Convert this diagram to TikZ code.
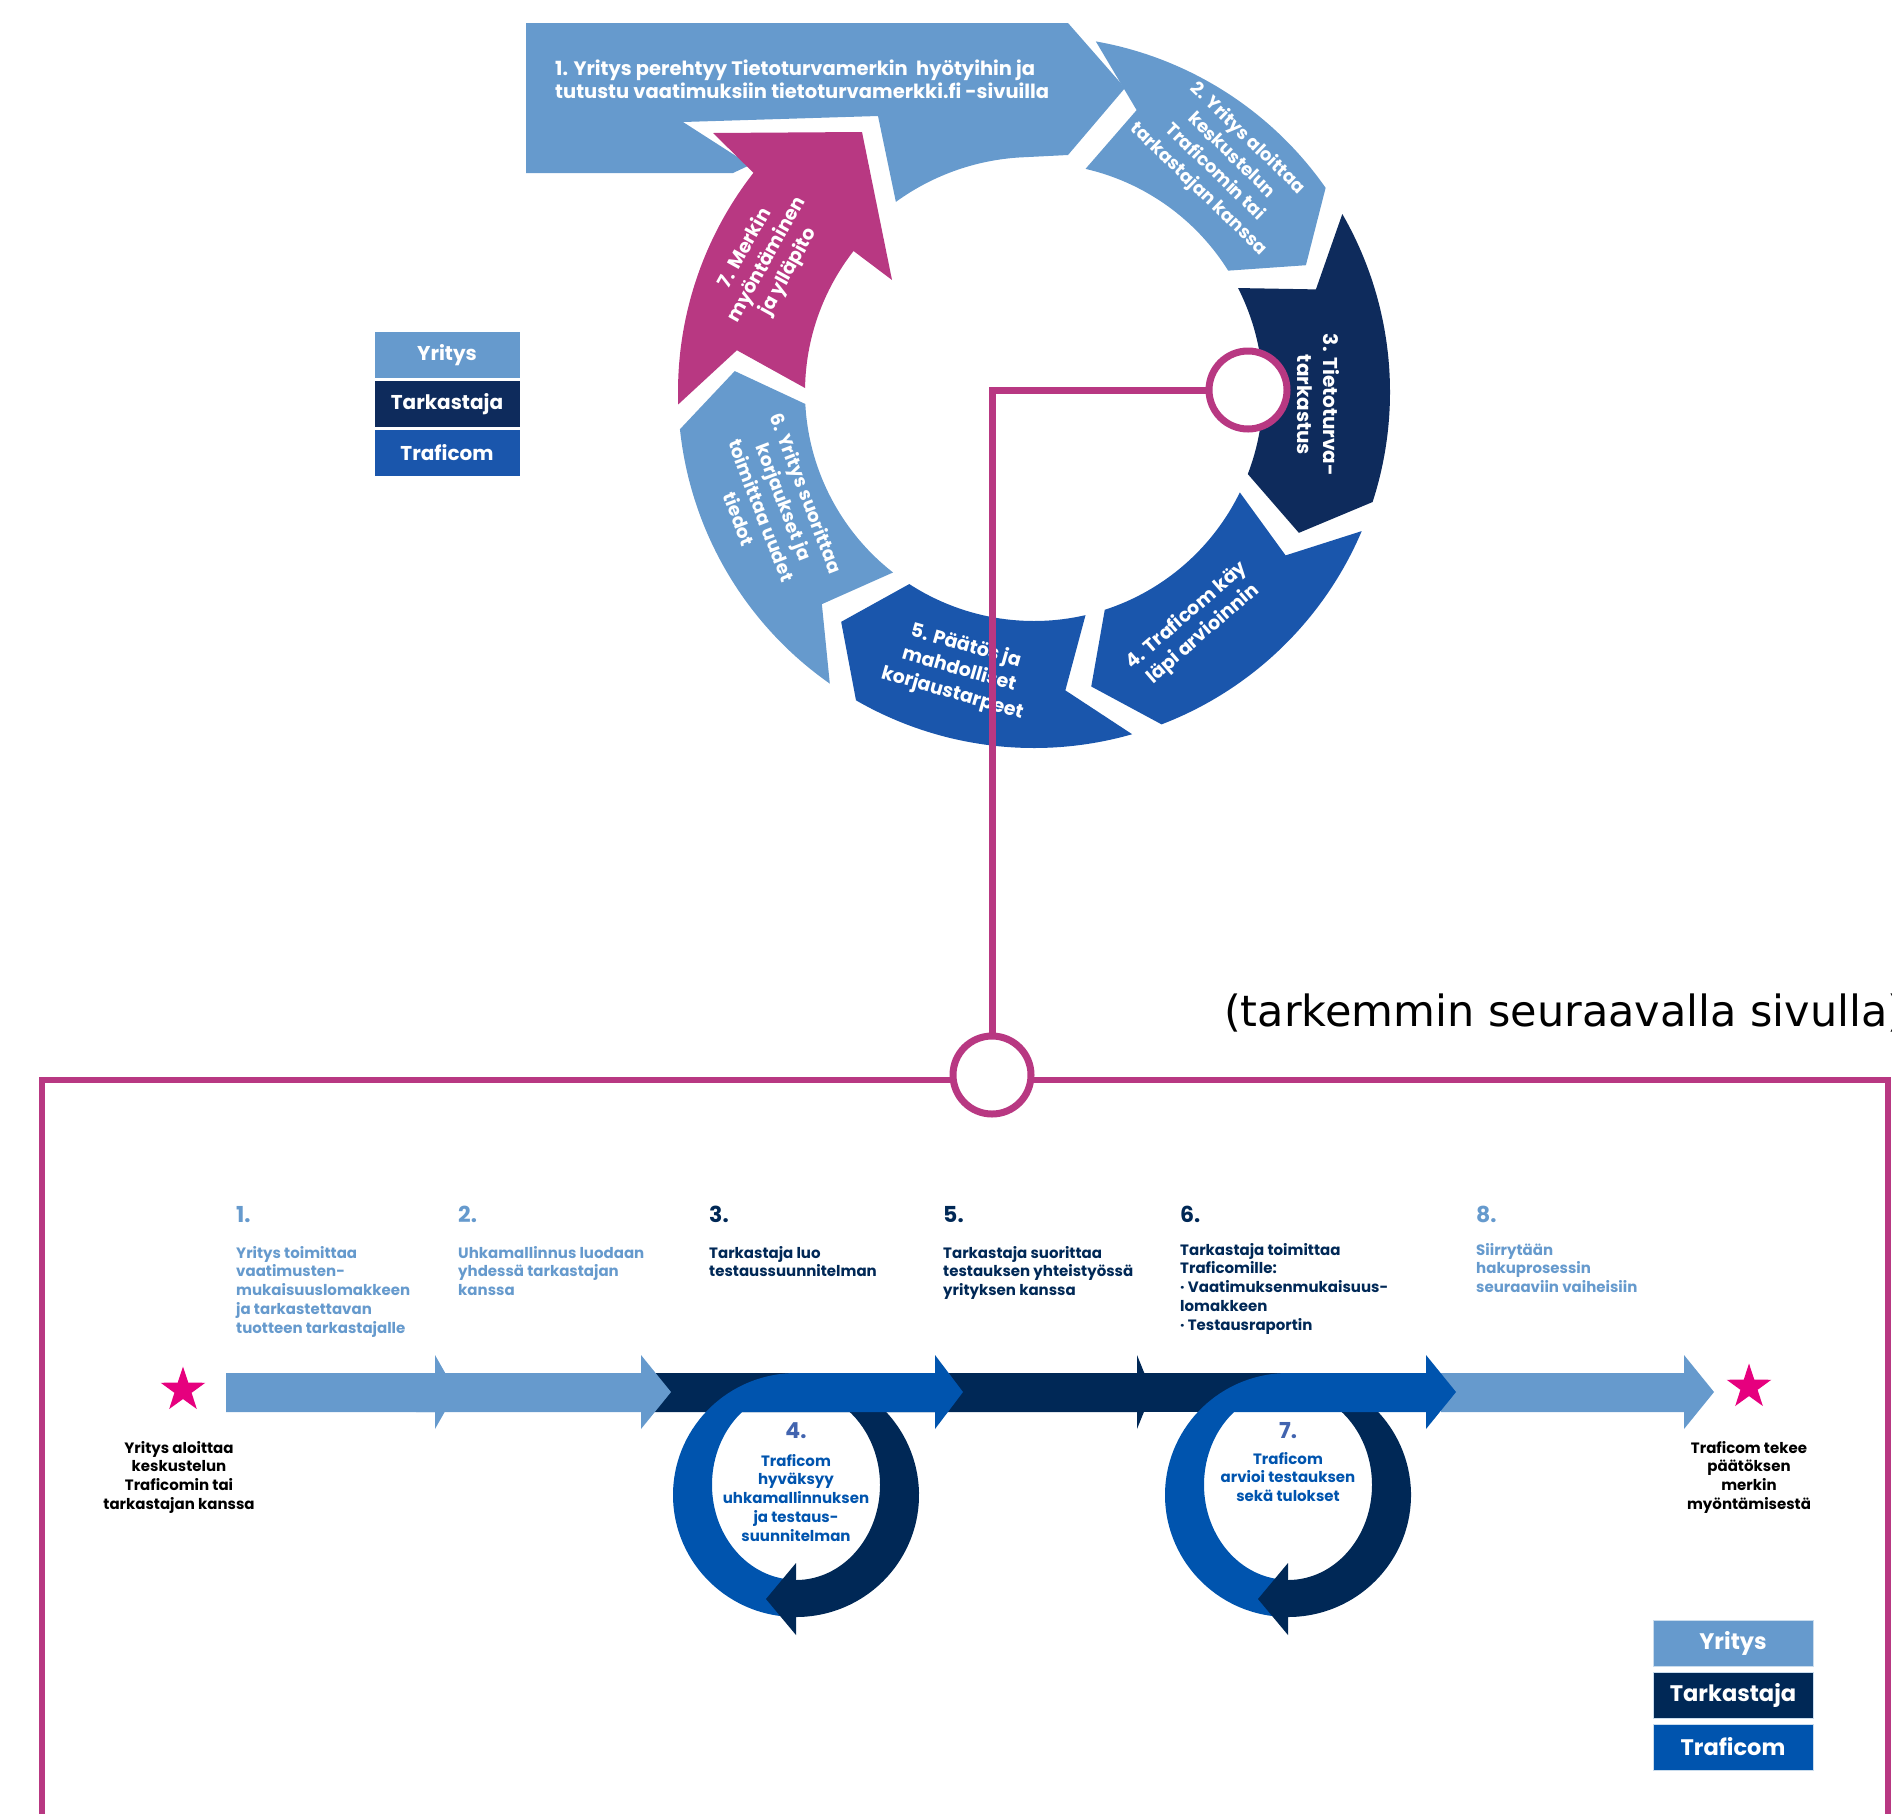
\documentclass[tikz,border=0pt]{standalone}
\usepackage{fontspec}
\setmainfont{Poppins}
\newfontfamily\notefont{DejaVu Sans}
\usetikzlibrary{shapes.geometric,positioning,calc}

\definecolor{yritys}{RGB}{102,154,205}
\definecolor{tarkastaja}{RGB}{14,43,92}
\definecolor{traficom}{RGB}{26,86,172}
\definecolor{tarkdark}{RGB}{0,40,86}
\definecolor{trafblue}{RGB}{0,84,174}
\definecolor{numblue}{RGB}{66,100,175}
\definecolor{merkki}{RGB}{184,56,130}
\definecolor{tahti}{RGB}{230,0,126}

\tikzset{
  ringtxt/.style={text=white, font=\bfseries\fontsize{19}{24.5}\selectfont, align=center, inner sep=0pt},
  legbox/.style={minimum width=145pt, minimum height=46pt, inner sep=0pt, text=white, font=\bfseries\fontsize{20}{22}\selectfont},
  legbox2/.style={legbox, minimum width=160pt, draw=yritys!35, line width=1pt, font=\bfseries\fontsize{22.5}{24}\selectfont},
  vaihe/.style={font=\bfseries\fontsize{15}{18.7}\selectfont, align=left, anchor=north west, inner sep=0pt},
  numero/.style={font=\bfseries\fontsize{22}{22}\selectfont, anchor=base west, inner sep=0pt},
  silmu/.style={font=\bfseries\fontsize{15}{18.7}\selectfont, align=center, anchor=north, inner sep=0pt, text=trafblue},
  tahtimerkki/.style={star, star points=5, star point ratio=2.6, fill=tahti, minimum size=47pt, inner sep=0pt},
  linkki/.style={circle, draw=merkki, line width=7pt, fill=white, minimum size=78pt, inner sep=0pt},
}

% ring segment: tail angle, head angle, colour
\newcommand{\lohko}[3]{%
  \fill[#3] (#1:356) arc[start angle=#1, end angle=#2, radius=356]
    -- ({#2+10}:300) -- ({#2+3}:229)
    arc[start angle={#2+3}, end angle={#1+3}, radius=229]
    -- ({#1+10}:300) -- cycle;}
% timeline arrow: start, head base, tip, colour
\newcommand{\nuoli}[4]{%
  \fill[#4] (#1,1373) -- (#2,1373) -- (#2,1355) -- (#3,1392) -- (#2,1429) -- (#2,1412) -- (#1,1412) -- cycle;}
% loop: centre x, head base, tip
\newcommand{\silmukka}[3]{%
  \begin{scope}[shift={(#1,1495)}]
    \fill[tarkdark] (-60:123 and 122) arc[start angle=-60, end angle=90, x radius=123, y radius=122]
      -- (0,85) arc[start angle=90, end angle=-60, x radius=84, y radius=95] -- cycle;
    \fill[trafblue] (92:123 and 122) arc[start angle=92, end angle=270, x radius=123, y radius=122]
      -- ({#2-#1},-122) -- ({#2-#1},-140) -- ({#3-#1},-103) -- ({#2-#1},-66) -- ({#2-#1},-83)
      -- (-54,-83) arc[start angle=230, end angle=92, x radius=84, y radius=95] -- cycle;
    \fill[tarkdark] (0,68) -- (-30,104) -- (0,140) -- cycle;
  \end{scope}}

\begin{document}
\begin{tikzpicture}[x=1pt,y=-1pt]
\useasboundingbox (0,0) rectangle (1892,1813);

% Cycle
\begin{scope}[shift={(1034,392)}]
  \fill[yritys] (-508,-369) -- (34,-369) -- (91,-304) -- (34,-237) -- (268:235)
    arc[start angle=268, end angle=234, radius=235]
    -- (-156,-276) -- (-351,-270) -- (-284,-227) -- (-301,-219) -- (-508,-219) -- cycle;
  \lohko{280}{325}{yritys}
  \lohko{330}{378}{tarkastaja}
  \lohko{383}{429}{traficom}
  \lohko{434}{480}{traficom}
  \lohko{485}{534}{yritys}
  \fill[merkki] (-321,-259) -- (-172,-260) -- (-142,-112) -- (218:229)
    arc[start angle=218, end angle=181, radius=229]
    -- (188:300) -- (178:356) arc[start angle=178, end angle=218, radius=356] -- cycle;
\end{scope}

% Cycle texts
\node[ringtxt, align=left, anchor=north west, font=\bfseries\fontsize{19.5}{23}\selectfont] (v1) at (555,60) {1. Yritys perehtyy Tietoturvamerkin\ \ hyötyihin ja\\tutustu vaatimuksiin tietoturvamerkki.fi -sivuilla};
\node[ringtxt, rotate=-44, font=\bfseries\fontsize{18}{23.5}\selectfont] (v2) at (1223,164) {2. Yritys aloittaa\\keskustelun\\Traficomin tai\\tarkastajan kanssa};
\node[ringtxt, rotate=-90, font=\bfseries\fontsize{20}{26}\selectfont] (v3) at (1318,405) {3. Tietoturva-\\tarkastus};
\node[ringtxt, rotate=41] (v4) at (1195,625) {4. Traficom käy\\läpi arvioinnin};
\node[ringtxt, rotate=-16] (v5) at (959,670) {5. Päätös ja\\mahdolliset\\korjaustarpeet};
\node[ringtxt, rotate=-69, font=\bfseries\fontsize{18.5}{24}\selectfont] (v6) at (773,506) {6. Yritys suorittaa\\korjaukset ja\\toimittaa uudet\\tiedot};
\node[ringtxt, rotate=61] (v7) at (767,260) {7. Merkin\\myöntäminen\\ja ylläpito};

% Legend
\foreach \nimi/\vari [count=\i] in {Yritys/yritys, Tarkastaja/tarkastaja, Traficom/traficom}
  \node[legbox, fill=\vari] (selite\i) at (447,{355+49*(\i-1)}) {\nimi};

\node[anchor=base west, inner sep=0pt, font=\notefont\fontsize{43}{47}\selectfont] (huomautus) at (1224,1026) {(tarkemmin seuraavalla sivulla)};

% Frame and link
\draw[merkki, line width=6pt] (42,1830) -- (42,1080) -- (1888,1080) -- (1888,1830);
\node[linkki] (ympyra) at (1248,390) {};
\node[linkki] (alaympyra) at (992,1075) {};
\draw[merkki, line width=7pt] (ympyra.west) -| (alaympyra.north);

% Timeline
\nuoli{641}{1137}{1152}{tarkdark}
\fill[tarkdark] (1137,1373) rectangle (1310,1412);
\silmukka{796}{935}{963}
\nuoli{1441}{1684}{1714}{yritys}
\silmukka{1288}{1426}{1456}
\nuoli{226}{435}{456}{yritys}
\nuoli{416}{641}{671}{yritys}

% Steps
\node[numero, text=yritys] (n1) at (236,1222) {1.};
\node[vaihe, text=yritys] (t1) at (236,1246) {Yritys toimittaa\\vaatimusten-\\mukaisuuslomakkeen\\ja tarkastettavan\\tuotteen tarkastajalle};
\node[numero, text=yritys] (n2) at (458,1222) {2.};
\node[vaihe, text=yritys] (t2) at (458,1246) {Uhkamallinnus luodaan\\yhdessä tarkastajan\\kanssa};
\node[numero, text=tarkdark] (n3) at (709,1222) {3.};
\node[vaihe, text=tarkdark] (t3) at (709,1246) {Tarkastaja luo\\testaussuunnitelman};
\node[numero, text=tarkdark] (n5) at (943,1222) {5.};
\node[vaihe, text=tarkdark] (t5) at (943,1246) {Tarkastaja suorittaa\\testauksen yhteistyössä\\yrityksen kanssa};
\node[numero, text=tarkdark] (n6) at (1180,1222) {6.};
\node[vaihe, text=tarkdark] (t6) at (1180,1243) {Tarkastaja toimittaa\\Traficomille:\\· Vaatimuksenmukaisuus-\\lomakkeen\\· Testausraportin};
\node[numero, text=yritys] (n8) at (1476,1222) {8.};
\node[vaihe, text=yritys] (t8) at (1476,1243) {Siirrytään\\hakuprosessin\\seuraaviin vaiheisiin};

\node[numero, anchor=base, text=numblue] (n4) at (796,1438) {4.};
\node[silmu] (t4) at (796,1454) {Traficom\\hyväksyy\\uhkamallinnuksen\\ja testaus-\\suunnitelman};
\node[numero, anchor=base, text=numblue] (n7) at (1288,1438) {7.};
\node[silmu] (t7) at (1288,1452) {Traficom\\arvioi testauksen\\sekä tulokset};

% Start and end
\node[tahtimerkki] (alku) at (183,1390) {};
\node[vaihe, anchor=north, align=center] (alkuteksti) at (179,1441) {Yritys aloittaa\\keskustelun\\Traficomin tai\\tarkastajan kanssa};
\node[tahtimerkki] (loppu) at (1749,1387) {};
\node[vaihe, anchor=north, align=center] (lopputeksti) at (1749,1441) {Traficom tekee\\päätöksen\\merkin\\myöntämisestä};

% Legend
\foreach \nimi/\vari [count=\i] in {Yritys/yritys, Tarkastaja/tarkdark, Traficom/trafblue}
  \node[legbox2, fill=\vari] (alaselite\i) at (1733,{1643+52*(\i-1)}) {\nimi};
\end{tikzpicture}
\end{document}
